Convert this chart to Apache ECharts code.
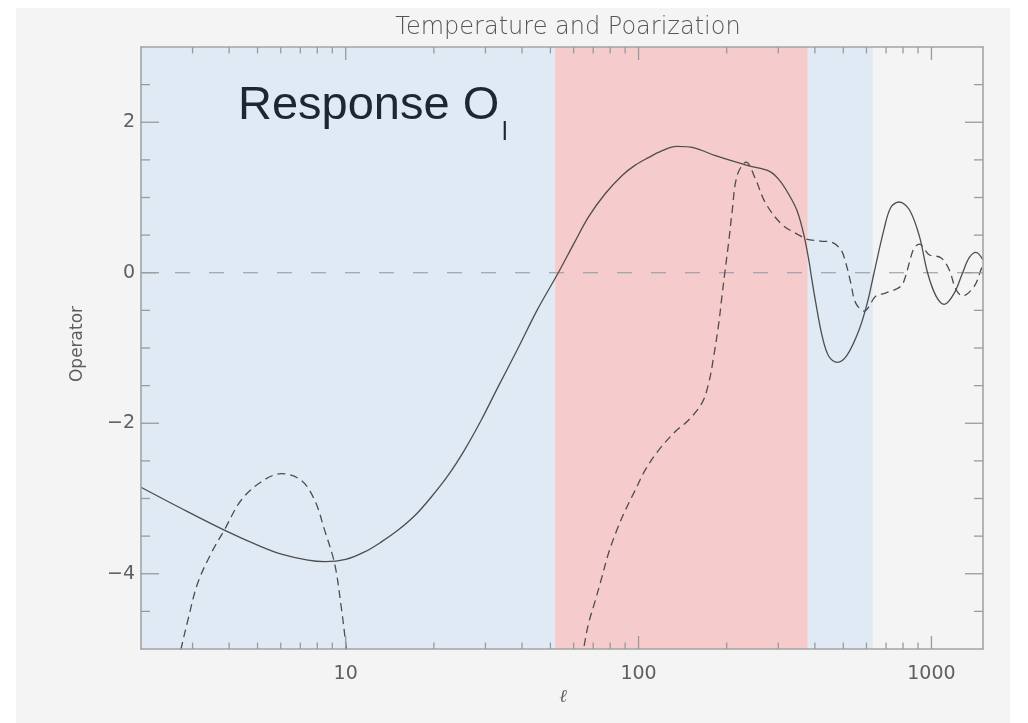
<!DOCTYPE html>
<html>
<head>
<meta charset="utf-8">
<script src="https://cdn.jsdelivr.net/npm/echarts@6/dist/echarts.min.js"></script>
<style>
  html, body { margin: 0; padding: 0; background: #ffffff; }
  #frame { position: absolute; left: 16px; top: 8px; width: 994px; height: 715px; background: #f4f4f4; }
  #chart { position: absolute; left: 0; top: 0; width: 1028px; height: 723px; }
</style>
</head>
<body>
<div id="frame"></div>
<div id="chart"></div>
<script>
// Axis ranges
const X_MIN = 2, X_MAX = 1500;
const Y_MIN = -5, Y_MAX = 3;

// Tick positions
const xMajorTicks = [10, 100, 1000];
const xMinorTicks = [3, 4, 5, 6, 7, 8, 9, 20, 30, 40, 50, 60, 70, 80, 90, 200, 300, 400, 500, 600, 700, 800, 900];
const yMajorTicks = [-4, -2, 0, 2];
const yMinorTicks = [-4.5, -3.5, -3, -2.5, -1.5, -1, -0.5, 0.5, 1, 1.5, 2.5];
const yLabelValues = [-4, -2, 0, 2];

// Shaded multipole ranges: [from, to]
const blueBands = [[2, 51.9], [378, 630]];
const redBands = [[51.9, 378]];

// Temperature response (solid)
const solidL = [2, 2.74, 3.85, 5.14, 6.03, 7.43, 8.5, 10, 11.6, 13.2, 15.1, 17.3, 19.6, 22.4, 25.5, 29.1, 33.2, 38.8, 45, 53.2,
  60, 67.4, 76.9, 87.7, 97.4, 108, 120, 135, 155, 183, 238, 279, 301, 326, 348, 367, 382, 388,
  402, 424, 446, 477, 516, 566, 604, 637, 689, 727, 776, 840, 909, 970, 1037, 1107, 1197, 1278, 1346, 1419, 1500];
const solidV = [-2.85, -3.13, -3.42, -3.64, -3.74, -3.82, -3.84, -3.81, -3.71, -3.58, -3.42, -3.22, -2.98, -2.69, -2.35, -1.95, -1.51, -1.0, -0.5, 0,
  0.38, 0.74, 1.05, 1.29, 1.43, 1.53, 1.62, 1.68, 1.66, 1.555, 1.42, 1.35, 1.24, 1.04, 0.82, 0.5, 0.15, -0.02,
  -0.38, -0.85, -1.11, -1.19, -1.09, -0.76, -0.4, 0, 0.58, 0.87, 0.94, 0.84, 0.49, 0, -0.31, -0.42, -0.27, 0, 0.2, 0.27, 0.17];

// Polarization response (dashed), low-ell lobe
const dashLowL = [2.62, 2.74, 2.89, 3.12, 3.47, 3.85, 4.4, 5.14, 6.03, 7.05, 7.83, 8.47, 9.17, 9.66, 10.05, 10.3];
const dashLowV = [-5.35, -5.0, -4.62, -4.13, -3.73, -3.42, -3.02, -2.78, -2.67, -2.76, -3.02, -3.42, -3.87, -4.45, -5.0, -5.4];

// Polarization response (dashed), high-ell branch
const dashHighL = [63, 64.9, 67.4, 71.1, 74.9, 78.9, 84.3, 90, 97.4, 105.4, 117, 133.5, 148, 164.7, 173.5, 180.6, 187.9, 192, 197, 203, 208.5, 217, 233,
  251, 271, 309, 357, 371, 418, 453, 490, 510, 530, 551, 589, 646, 697, 786, 817, 840, 873, 909, 982, 1077, 1150, 1212, 1278, 1400, 1476, 1500];
const dashHighV = [-5.3, -5.0, -4.67, -4.36, -4.05, -3.73, -3.42, -3.16, -2.89, -2.62, -2.36, -2.11, -1.96, -1.73, -1.47, -1.11, -0.67, -0.36, 0, 0.4, 0.8, 1.29, 1.47,
  1.24, 0.93, 0.64, 0.49, 0.45, 0.42, 0.41, 0.31, 0.13, -0.13, -0.4, -0.51, -0.31, -0.27, -0.18, -0.04, 0.13, 0.33, 0.38, 0.24, 0.2, 0.04, -0.22, -0.31, -0.18, 0.04, 0.12];

const zip = (xs, ys) => xs.map((x, i) => [x, ys[i]]);

const AXIS_COLOR = '#a4a4a4';
const TICK_COLOR = '#9a9a9a';
const TEXT_COLOR = '#5e5e5e';
const CURVE_COLOR = '#4d4d4d';
const BLUE = '#e0eaf5';
const RED = '#f5cbcc';

function renderXTicks(params, api) {
  const v = api.value(0);
  const len = api.value(1) === 1 ? 13 : 6.5;
  const b = api.coord([v, Y_MIN]);
  const t = api.coord([v, Y_MAX]);
  const st = { stroke: TICK_COLOR, lineWidth: 1.3 };
  return { type: 'group', children: [
    { type: 'line', shape: { x1: b[0], y1: b[1], x2: b[0], y2: b[1] - len }, style: st },
    { type: 'line', shape: { x1: t[0], y1: t[1], x2: t[0], y2: t[1] + len }, style: st }
  ] };
}

function renderYTicks(params, api) {
  const v = api.value(1);
  const len = api.value(2) === 1 ? 18 : 9;
  const l = api.coord([X_MIN, v]);
  const r = api.coord([X_MAX, v]);
  const st = { stroke: TICK_COLOR, lineWidth: 1.3 };
  return { type: 'group', children: [
    { type: 'line', shape: { x1: l[0], y1: l[1], x2: l[0] + len, y2: l[1] }, style: st },
    { type: 'line', shape: { x1: r[0], y1: r[1], x2: r[0] - len, y2: r[1] }, style: st }
  ] };
}

const bandData = []
  .concat(blueBands.map(b => [{ xAxis: b[0], itemStyle: { color: BLUE } }, { xAxis: b[1] }]))
  .concat(redBands.map(b => [{ xAxis: b[0], itemStyle: { color: RED } }, { xAxis: b[1] }]));

const axisLineStyle = { show: true, onZero: false, lineStyle: { color: AXIS_COLOR, width: 1.6 } };

const chart = echarts.init(document.getElementById('chart'), null, { renderer: 'canvas' });
chart.setOption({
  animation: false,
  backgroundColor: 'transparent',
  grid: { left: 141, right: 45, top: 47, bottom: 74, show: false },
  xAxis: [
    {
      type: 'log', logBase: 10, min: X_MIN, max: X_MAX, position: 'bottom', z: 5,
      axisLine: axisLineStyle, axisTick: { show: false }, splitLine: { show: false },
      axisLabel: {
        color: TEXT_COLOR, fontFamily: 'DejaVu Sans', fontSize: 19, margin: 16,
        showMinLabel: false, showMaxLabel: false,
        formatter: v => (xMajorTicks.indexOf(Math.round(v)) >= 0 ? String(Math.round(v)) : '')
      }
    },
    {
      type: 'log', logBase: 10, min: X_MIN, max: X_MAX, position: 'top', z: 5,
      axisLine: axisLineStyle, axisTick: { show: false }, splitLine: { show: false }, axisLabel: { show: false }
    }
  ],
  yAxis: [
    {
      type: 'value', min: Y_MIN, max: Y_MAX, interval: 1, position: 'left', z: 5,
      axisLine: axisLineStyle, axisTick: { show: false }, splitLine: { show: false },
      axisLabel: {
        color: TEXT_COLOR, fontFamily: 'DejaVu Sans', fontSize: 19, margin: 6,
        formatter: v => (yLabelValues.indexOf(v) >= 0 ? String(v).replace('-', '\u2212') : '')
      }
    },
    {
      type: 'value', min: Y_MIN, max: Y_MAX, interval: 1, position: 'right', z: 5,
      axisLine: axisLineStyle, axisTick: { show: false }, splitLine: { show: false }, axisLabel: { show: false }
    }
  ],
  graphic: [
    { type: 'text', z: 10, x: 568, y: 16, style: { text: 'Temperature and Poarization', fill: '#555555', font: '200 24px "DejaVu Sans"', textAlign: 'center' } },
    { type: 'text', z: 10, x: 238, y: 83, style: { text: 'Response O', fill: '#1d2733', font: '47px "Liberation Sans", Arial, sans-serif' } },
    { type: 'text', z: 10, x: 502, y: 121, style: { text: 'l', fill: '#1d2733', font: '25px "Liberation Sans", Arial, sans-serif' } },
    { type: 'text', z: 10, x: 78, y: 344, rotation: Math.PI / 2, style: { text: 'Operator', fill: TEXT_COLOR, font: '17px "DejaVu Sans"', textAlign: 'center', textVerticalAlign: 'middle' } },
    { type: 'text', z: 10, x: 563, y: 697, style: { text: '\u2113', fill: TEXT_COLOR, font: 'italic 18px "DejaVu Serif"', textAlign: 'center', textVerticalAlign: 'middle' } }
  ],
  series: [
    {
      name: 'zero', type: 'line', z: 2, xAxisIndex: 0, yAxisIndex: 0,
      data: [[X_MIN, 0], [X_MAX, 0]], showSymbol: false, silent: true,
      lineStyle: { color: '#8d979f', width: 1.1, type: [15, 19] }
    },
    {
      name: 'temperature', type: 'line', z: 3, xAxisIndex: 0, yAxisIndex: 0,
      data: zip(solidL, solidV), showSymbol: false, smooth: 0.35, silent: true,
      lineStyle: { color: CURVE_COLOR, width: 1.3 },
      markArea: { silent: true, data: bandData }
    },
    {
      name: 'polarization-low', type: 'line', z: 3, xAxisIndex: 0, yAxisIndex: 0,
      data: zip(dashLowL, dashLowV), showSymbol: false, smooth: 0.35, silent: true,
      lineStyle: { color: CURVE_COLOR, width: 1.3, type: [8, 5] }
    },
    {
      name: 'polarization-high', type: 'line', z: 3, xAxisIndex: 0, yAxisIndex: 0,
      data: zip(dashHighL, dashHighV), showSymbol: false, smooth: 0.35, silent: true,
      lineStyle: { color: CURVE_COLOR, width: 1.3, type: [8, 5] }
    },
    {
      name: 'x-ticks', type: 'custom', z: 6, silent: true, xAxisIndex: 0, yAxisIndex: 0,
      renderItem: renderXTicks,
      data: xMajorTicks.map(v => [v, 1]).concat(xMinorTicks.map(v => [v, 0]))
    },
    {
      name: 'y-ticks', type: 'custom', z: 6, silent: true, xAxisIndex: 0, yAxisIndex: 0,
      encode: { x: 0, y: 1 },
      renderItem: renderYTicks,
      data: yMajorTicks.map(v => [X_MIN, v, 1]).concat(yMinorTicks.map(v => [X_MIN, v, 0]))
    }
  ]
});
</script>
</body>
</html>
